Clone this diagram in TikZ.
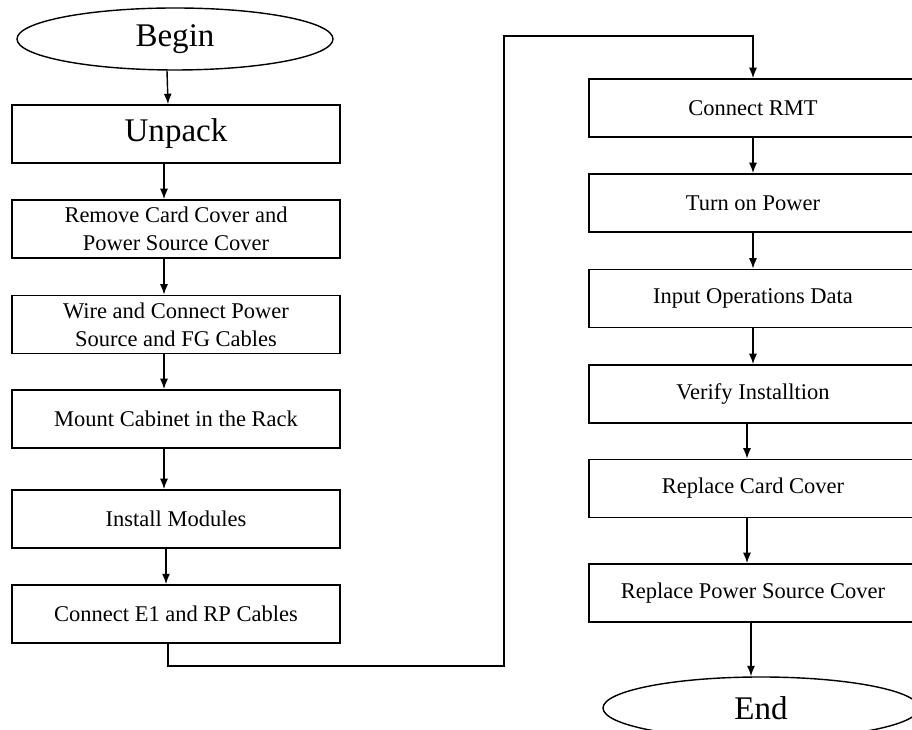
\documentclass[tikz,border=0pt]{standalone}
\usepackage{fontspec}
\setmainfont{Liberation Serif}
\usetikzlibrary{arrows.meta,shapes,positioning}

\begin{document}
\begin{tikzpicture}[>={Latex[length=2.6mm,width=2mm]},
    box/.style={rectangle, draw, line width=1.2pt, minimum width=8.2cm, minimum height=1.45cm, align=center, font=\fontsize{16}{20}\selectfont},
    term/.style={ellipse, draw, line width=1pt, minimum width=7.9cm, minimum height=1.55cm, font=\fontsize{23.5}{28}\selectfont},
    flow/.style={->, line width=1pt}]
      \useasboundingbox (0,0) rectangle (22.8,18.25);
      \clip (0,0) rectangle (22.8,18.25);
      % left column
      \node[term] at (4.375,17.275) (begin) {Begin};
      \node[box, font=\fontsize{23.5}{28}\selectfont] at (4.4,14.9) (unpack) {Unpack};
      \node[box] at (4.4,12.525) (remcover) {Remove Card Cover and\\Power Source Cover};
      \node[box] at (4.4,10.1375) (wirepwr) {Wire and Connect Power\\Source and FG Cables};
      \node[box] at (4.4,7.775) (mount) {Mount Cabinet in the Rack};
      \node[box] at (4.4,5.275) (install) {Install Modules};
      \node[box] at (4.4,2.9) (conne1) {Connect E1 and RP Cables};
      % right column
      \node[box] at (18.825,15.55) (connrmt) {Connect RMT};
      \node[box] at (18.825,13.175) (pwron) {Turn on Power};
      \node[box] at (18.825,10.7875) (opdata) {Input Operations Data};
      \node[box] at (18.825,8.4) (verify) {Verify Installtion};
      \node[box] at (18.825,6.0375) (repcard) {Replace Card Cover};
      \node[box] at (18.825,3.425) (reppwr) {Replace Power Source Cover};
      \node[term] at (19.025,0.55) (stop) {End};
      \coordinate (turn) at (12.6,17.35);
      \draw[flow] ([xshift=-2mm]begin.south) -- ([xshift=-2mm]unpack.north);
      \draw[flow] ([xshift=-3mm]unpack.south) -- ([xshift=-3mm]remcover.north);
      \draw[flow] ([xshift=-3mm]remcover.south) -- ([xshift=-3mm]wirepwr.north);
      \draw[flow] ([xshift=-3mm]wirepwr.south) -- ([xshift=-3mm]mount.north);
      \draw[flow] ([xshift=-3mm]mount.south) -- ([xshift=-3mm]install.north);
      \draw[flow] ([xshift=-2.5mm]install.south) -- ([xshift=-2.5mm]conne1.north);
      \draw[flow] ([xshift=-2mm]conne1.south) -- ++(0,-0.55) -| (turn) -| (connrmt.north);
      \draw[flow] (connrmt) -- (pwron);
      \draw[flow] (pwron) -- (opdata);
      \draw[flow] (opdata) -- (verify);
      \draw[flow] ([xshift=-1.5mm]verify.south) -- ([xshift=-1.5mm]repcard.north);
      \draw[flow] ([xshift=-1.5mm]repcard.south) -- ([xshift=-1.5mm]reppwr.north);
      \draw[flow] ([xshift=-0.5mm]reppwr.south) -- ([xshift=-0.5mm]reppwr.south |- stop.north);
\end{tikzpicture}
\end{document}
